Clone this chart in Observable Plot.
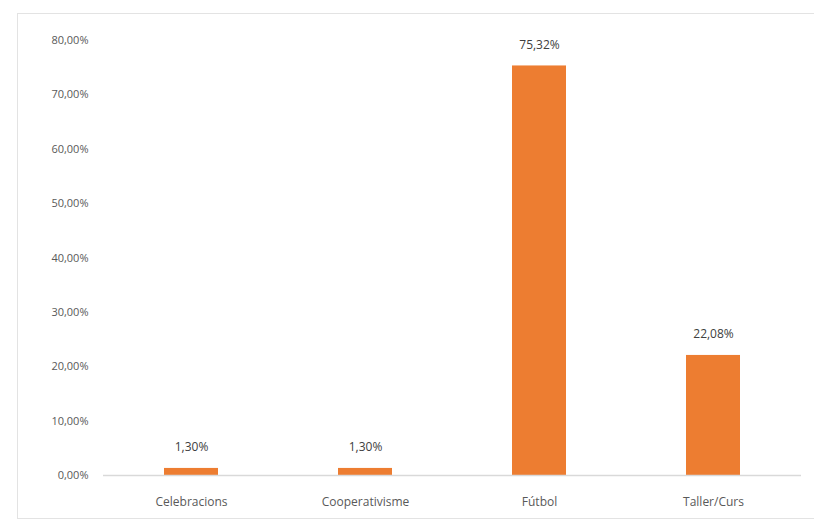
<!DOCTYPE html>
<html>
<head>
<meta charset="utf-8">
<script src="https://cdn.jsdelivr.net/npm/d3@7"></script>
<script src="https://cdn.jsdelivr.net/npm/@observablehq/plot@0.6"></script>
<style>
  html, body { margin: 0; padding: 0; background: #fff; }
  #wrap { position: relative; width: 814px; height: 524px; }
  #border { position: absolute; left: 17px; top: 13px; width: 820px; height: 506px;
            border: 1px solid #e3e3e3; box-sizing: border-box; pointer-events: none; }
</style>
</head>
<body>
<div id="wrap"><div id="border"></div></div>
<script>
const categories = ["Celebracions", "Cooperativisme", "Fútbol", "Taller/Curs"];
const values = [1.30, 1.30, 75.32, 22.08];
const yTicks = [0, 10, 20, 30, 40, 50, 60, 70, 80];

const data = categories.map((c, i) => ({category: c, value: values[i]}));
const fmt = v => v.toFixed(2).replace(".", ",") + "%";
const font = "'Open Sans', 'Noto Sans', sans-serif";

const chart = Plot.plot({
  width: 814,
  height: 524,
  marginLeft: 103,
  marginRight: 13,
  marginTop: 40,
  marginBottom: 49,
  style: {fontFamily: font, fontSize: "11px", color: "#595959", background: "transparent"},
  x: {domain: categories, paddingInner: 0.69, paddingOuter: 0.345, label: null},
  y: {domain: [0, 80], ticks: yTicks, label: null},
  marks: [
    Plot.axisY({ticks: yTicks, tickFormat: fmt, tickSize: 0, tickPadding: 15, fontSize: 11, fill: "#595959"}),
    Plot.axisX({tickSize: 0, tickPadding: 22, fontSize: 12, fill: "#595959"}),
    Plot.barY(data, {x: "category", y: "value", fill: "#ED7D31"}),
    Plot.ruleY([0], {stroke: "#d9d9d9", strokeWidth: 1.5}),
    Plot.text(data, {x: "category", y: "value", text: d => fmt(d.value), dy: -21, fontSize: 12, fill: "#404040"})
  ]
});
document.getElementById("wrap").appendChild(chart);
</script>
</body>
</html>
